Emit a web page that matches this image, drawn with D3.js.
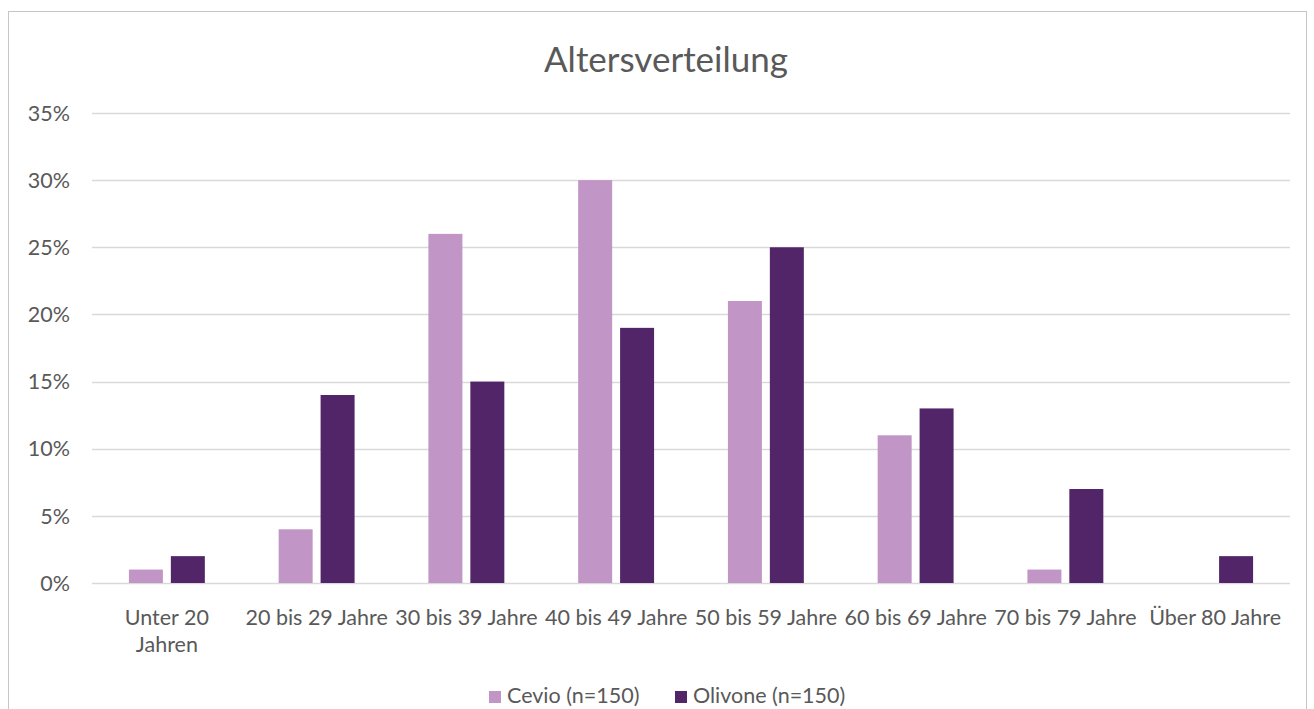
<!DOCTYPE html>
<html>
<head>
<meta charset="utf-8">
<script src="https://cdn.jsdelivr.net/npm/d3@7"></script>
<style>
  html, body { margin: 0; padding: 0; background: #fff; }
  svg { display: block; font-family: Lato, "Open Sans", sans-serif; }
</style>
</head>
<body>
<div id="chart"></div>
<script>
/* Altersverteilung — grouped bars */
const categories = [
  ['Unter 20', 'Jahren'],
  ['20 bis 29 Jahre'],
  ['30 bis 39 Jahre'],
  ['40 bis 49 Jahre'],
  ['50 bis 59 Jahre'],
  ['60 bis 69 Jahre'],
  ['70 bis 79 Jahre'],
  ['Über 80 Jahre']
];
const seriesNames = ['Cevio (n=150)', 'Olivone (n=150)'];
const cevio   = [1, 4, 26, 30, 21, 11, 1, 0];
const olivone = [2, 14, 15, 19, 25, 13, 7, 2];
const yTicks  = [0, 5, 10, 15, 20, 25, 30, 35];
const colors  = ['#c295c7', '#522468'];

const W = 1314, H = 709;
const m = { left: 92, right: 24, top: 113, bottom: 126 };

const svg = d3.select('#chart').append('svg').attr('width', W).attr('height', H);

// chart frame
svg.append('rect')
  .attr('x', 8.5).attr('y', 11.5).attr('width', 1298).attr('height', 720)
  .attr('fill', '#fff').attr('stroke', '#c6c6c6');

svg.append('text')
  .attr('x', 666).attr('y', 72).attr('text-anchor', 'middle')
  .style('fill', '#595959').style('font-size', '35px')
  .text('Altersverteilung');

const x = d3.scaleBand().domain(d3.range(categories.length))
  .range([m.left, W - m.right]).paddingInner(0).paddingOuter(0);
const y = d3.scaleLinear().domain([0, 35]).range([H - m.bottom, m.top]);

// grid
svg.append('g').selectAll('line').data(yTicks).join('line')
  .attr('x1', m.left).attr('x2', W - m.right)
  .attr('y1', d => Math.round(y(d)) + 0.5).attr('y2', d => Math.round(y(d)) + 0.5)
  .attr('stroke', '#d9d9d9').attr('stroke-width', 1.5);

// y labels
svg.append('g').selectAll('text').data(yTicks).join('text')
  .attr('x', 70).attr('y', d => y(d)).attr('dy', '.36em').attr('text-anchor', 'end')
  .style('fill', '#595959').style('font-size', '21.5px')
  .text(d => d + '%');

// bars
const bw = x.bandwidth() * 0.227, gap = x.bandwidth() * 0.053;
const series = [cevio, olivone];
series.forEach((vals, si) => {
  svg.append('g').selectAll('rect').data(vals).join('rect')
    .attr('x', (d, i) => x(i) + x.bandwidth() / 2 + (si === 0 ? -gap / 2 - bw : gap / 2))
    .attr('width', bw)
    .attr('y', d => y(d))
    .attr('height', d => y(0) - y(d))
    .attr('fill', colors[si]);
});

// x labels
const xl = svg.append('g').selectAll('text').data(categories).join('text')
  .attr('text-anchor', 'middle')
  .style('fill', '#595959').style('font-size', '21.5px');
xl.each(function(lines, i) {
  d3.select(this).selectAll('tspan').data(lines).join('tspan')
    .attr('x', x(i) + x.bandwidth() / 2)
    .attr('y', (d, k) => 625 + k * 27)
    .text(d => d);
});

// legend
const legend = svg.append('g');
const lx = [489, 675];
seriesNames.forEach((name, i) => {
  legend.append('rect').attr('x', lx[i]).attr('y', 691).attr('width', 12).attr('height', 12)
    .attr('fill', colors[i]);
  legend.append('text').attr('x', lx[i] + 18).attr('y', 703)
    .style('fill', '#595959').style('font-size', '21.5px').text(name);
});
</script>
</body>
</html>
